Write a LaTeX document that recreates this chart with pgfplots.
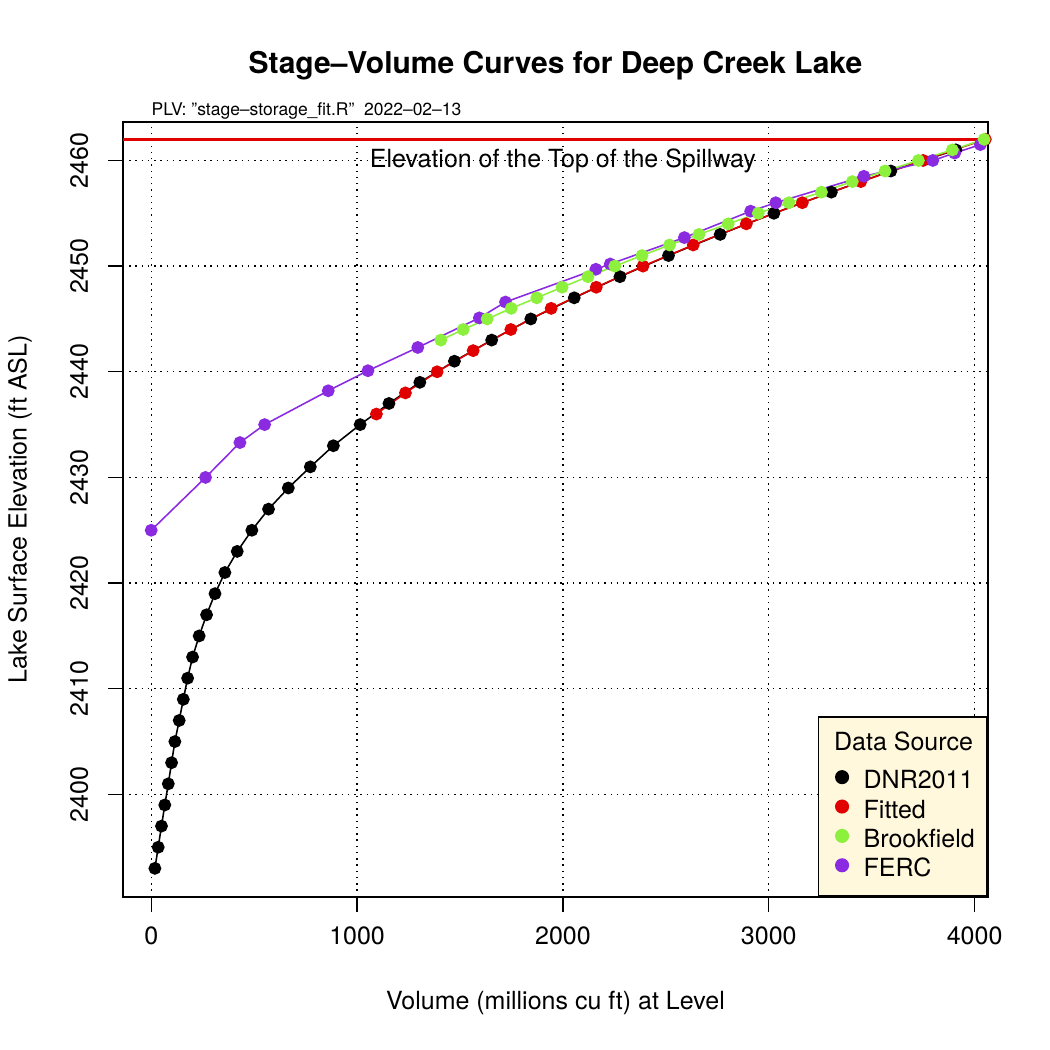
\documentclass[border=0pt]{standalone}
\usepackage{pgfplots}
\pgfplotsset{compat=1.18}
\usepackage{fontspec}
\setmainfont{TeX Gyre Heros}
\definecolor{cRed}{RGB}{224,0,0}
\definecolor{cGreen}{RGB}{140,240,60}
\definecolor{cPurple}{RGB}{138,43,226}
\definecolor{cornsilk}{RGB}{255,248,220}
\pgfplotsset{dotlegend/.style={legend image code/.code={\path (0pt,-3pt) (15pt,3pt); \draw[##1] plot coordinates {(7pt,0pt)};}}}
\begin{document}
\begin{tikzpicture}
\useasboundingbox (-59.04pt,-73.44pt) rectangle (444.96pt,430.56pt);
\begin{axis}[
  at={(0pt,0pt)}, anchor=south west,
  width=415.2pt, height=372pt, scale only axis, clip=false,
  xmin=-137, xmax=4065, ymin=2390.29, ymax=2463.64,
  xtick={0,1000,2000,3000,4000}, ytick={2400,2410,2420,2430,2440,2450,2460},
  grid=major,
  major grid style={black, line width=0.6pt, dash pattern=on 0.7pt off 2.3pt},
  tick align=outside, tick pos=left, major tick length=7.2pt,
  tick style={black, line width=0.6pt},
  axis line style={black, line width=0.75pt},
  ticklabel style={font=\fontsize{12}{14.4}\selectfont},
  /pgf/number format/assume math mode=true,
  /pgf/number format/1000 sep={},
  xticklabel style={anchor=base, yshift=-15.4pt},
  yticklabel style={rotate=90, anchor=base, yshift=9.7pt},
  xlabel={Volume (millions cu ft) at Level},
  ylabel={Lake Surface Elevation (ft ASL)},
  label style={font=\fontsize{12}{14.4}\selectfont},
  xlabel style={at={(axis description cs:0.5,0)}, anchor=base, yshift=-53.8pt},
  ylabel style={at={(axis description cs:-0.119,0.5)}, anchor=center},
  legend style={at={(axis description cs:1,0)}, anchor=south east, fill=cornsilk, draw=black, line width=0.75pt,
    font=\fontsize{12}{14.4}\selectfont, inner xsep=4pt, inner ysep=7.8pt, row sep=0pt,
    nodes={inner ysep=0pt, inner xsep=2pt},
    /tikz/every even column/.append style={text height=12.6pt, text depth=2.8pt}},
  legend cell align=left,
]
\addplot[cRed, line width=1.5pt, forget plot] coordinates {(-137,2462) (4065,2462)};
\addplot[black, line width=0.75pt, mark=*, mark size=2.7pt, forget plot] coordinates {
(18,2393) (34,2395) (50,2397) (66,2399) (83,2401) (99,2403) (115,2405) (136,2407)
(156,2409) (177,2411) (201,2413) (233,2415) (269,2417) (310,2419) (358,2421) (418,2423)
(489,2425) (570,2427) (666,2429) (773,2431) (885,2433) (1015,2435) (1155,2437) (1305,2439)
(1473,2441) (1654,2443) (1844,2445) (2055,2447) (2277,2449) (2513,2451) (2764,2453)
(3025,2455) (3304,2457) (3593,2459) (3909,2461)};
\addplot[cRed, line width=0.75pt, mark=*, mark size=2.7pt, forget plot] coordinates {
(1094,2436) (1235,2438) (1389,2440) (1564,2442) (1747,2444) (1943,2446) (2162,2448)
(2389,2450) (2633,2452) (2891,2454) (3163,2456) (3447,2458) (3750,2460) (4052,2462)};
\addplot[cPurple, line width=0.75pt, mark=*, mark size=2.7pt, forget plot] coordinates {
(0,2425) (264,2430) (431,2433.3) (551,2435) (860,2438.2) (1053,2440.1) (1295,2442.3)
(1594,2445.1) (1721,2446.6) (2160,2449.7) (2230,2450.2) (2590,2452.7) (2912,2455.2)
(3034,2456.0) (3462,2458.5) (3797,2460.0) (3903,2460.7) (4028,2461.5)};
\addplot[cGreen, line width=0.75pt, mark=*, mark size=2.7pt, forget plot] coordinates {
(1407,2443) (1516,2444) (1632,2445) (1749,2446) (1873,2447) (1996,2448) (2122,2449)
(2252,2450) (2384,2451) (2518,2452) (2661,2453) (2803,2454) (2949,2455) (3098,2456)
(3256,2457) (3406,2458) (3565,2459) (3727,2460) (3892,2461) (4046,2462)};
\addlegendimage{empty legend}
\addlegendentry{\hspace{-14.2pt}\raisebox{4.4pt}{Data Source}}
\addlegendimage{black, mark=*, mark size=3pt, dotlegend}
\addlegendentry{DNR2011}
\addlegendimage{cRed, mark=*, mark size=3pt, dotlegend}
\addlegendentry{Fitted}
\addlegendimage{cGreen, mark=*, mark size=3pt, dotlegend}
\addlegendentry{Brookfield\hspace{0.7pt}}
\addlegendimage{cPurple, mark=*, mark size=3pt, dotlegend}
\addlegendentry{FERC}
\node[anchor=base, font=\fontsize{12}{14.4}\selectfont, inner sep=0pt] at (axis cs:2000,2459.31) {Elevation of the Top of the Spillway};
\node[anchor=base west, font=\fontsize{8.4}{10}\selectfont, inner sep=0pt, yshift=2.9pt] at (axis cs:0,2463.64) {PLV: "stage--storage\_fit.R"\ \ 2022--02--13};
\node[anchor=base, font=\fontsize{14.4}{17}\selectfont\bfseries, inner sep=0pt, yshift=23.5pt] at (axis description cs:0.5,1) {Stage--Volume Curves for Deep Creek Lake};
\end{axis}
\end{tikzpicture}
\end{document}
